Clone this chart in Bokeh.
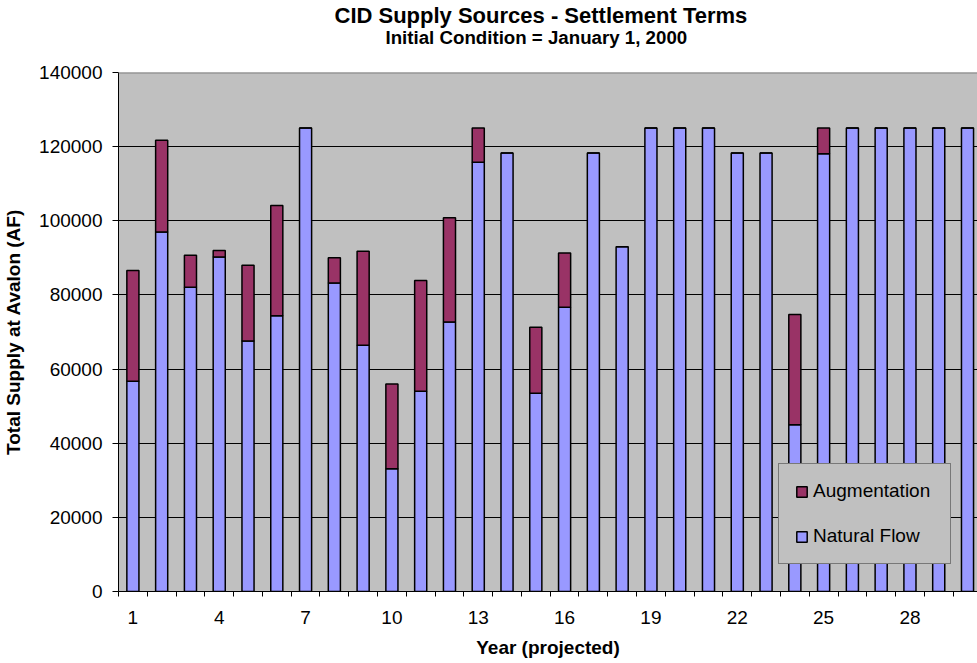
from bokeh.plotting import figure
from bokeh.models import (Range1d, FixedTicker, NumeralTickFormatter, Legend,
                          LegendItem, Title, Span, ColumnDataSource)
from bokeh.embed import file_html
from bokeh.resources import INLINE

years = list(range(1, 31))
natural_flow = [56700, 97000, 82100, 90200, 67600, 74400, 125000, 83200, 66400, 33100,
                54000, 72700, 115800, 118300, 53500, 76700, 118300, 93000, 125000, 125000,
                125000, 118300, 118300, 45000, 118100, 125000, 125000, 125000, 125000, 125000]
augmentation = [29900, 24700, 8600, 1800, 20400, 29700, 0, 6800, 25400, 22900,
                29900, 28100, 9200, 0, 17800, 14600, 0, 0, 0, 0,
                0, 0, 0, 29700, 6900, 0, 0, 0, 0, 0]
y_ticks = [0, 20000, 40000, 60000, 80000, 100000, 120000, 140000]
x_label_ticks = [1, 4, 7, 10, 13, 16, 19, 22, 25, 28]
category_edges = [i + 0.5 for i in range(0, 31)]

FONT = "Liberation Sans"
TXT = "19px"

source = ColumnDataSource(dict(year=years, natural=natural_flow, aug=augmentation))

W, H = 977, 663
LEFT, TOP, BOTTOM = 118, 72, 72
p = figure(width=W, height=H, output_backend="svg", toolbar_location=None,
           x_range=Range1d(0.5, 0.5 + (W - LEFT) / 28.78), y_range=Range1d(0, 140000),
           min_border_left=LEFT, min_border_right=0, min_border_top=TOP,
           min_border_bottom=BOTTOM,
           background_fill_color="#C0C0C0", border_fill_color="white",
           outline_line_color=None, title=None)

rs = p.vbar_stack(['natural', 'aug'], x='year', width=0.42, source=source,
                  color=['#9999FF', '#993366'], line_color='black', line_width=1.5)

# grid
p.xgrid.grid_line_color = None
p.ygrid.ticker = FixedTicker(ticks=y_ticks[1:-1])
p.ygrid.grid_line_color = "black"
p.ygrid.grid_line_width = 1

p.add_layout(Span(location=140000, dimension='width', line_color='#808080', line_width=2))

# y axis
ya = p.yaxis[0]
ya.ticker = FixedTicker(ticks=y_ticks)
ya.formatter = NumeralTickFormatter(format="0")
ya.major_tick_out = 6
ya.major_tick_in = 0
ya.minor_tick_line_color = None
ya.axis_line_color = "black"
ya.major_tick_line_color = "black"
ya.major_label_text_font = FONT
ya.major_label_text_font_size = TXT
ya.major_label_text_color = "black"
ya.major_label_standoff = 10
ya.axis_label = "Total Supply at Avalon (AF)"
ya.axis_label_text_font = FONT
ya.axis_label_text_font_size = TXT
ya.axis_label_text_font_style = "bold"
ya.axis_label_text_color = "black"
ya.axis_label_standoff = 12

# x axis
xa = p.xaxis[0]
xa.ticker = FixedTicker(ticks=x_label_ticks, minor_ticks=category_edges)
xa.major_tick_line_color = None
xa.major_tick_out = 5
xa.major_tick_in = 0
xa.minor_tick_out = 5
xa.minor_tick_in = 0
xa.minor_tick_line_color = "black"
xa.axis_line_color = "black"
xa.major_label_text_font = FONT
xa.major_label_text_font_size = TXT
xa.major_label_text_color = "black"
xa.major_label_standoff = 14
xa.axis_label = "Year (projected)"
xa.axis_label_text_font = FONT
xa.axis_label_text_font_size = TXT
xa.axis_label_text_font_style = "bold"
xa.axis_label_text_color = "black"
xa.axis_label_standoff = 10

# titles (first added sits closest to the frame)
p.add_layout(Title(text="Initial Condition = January 1, 2000", text_font=FONT,
                   text_font_size="18.7px", text_font_style="bold", align="left",
                   offset=385 - LEFT, text_color="black", standoff=49), 'above')
p.add_layout(Title(text="CID Supply Sources - Settlement Terms", text_font=FONT,
                   text_font_size="22px", text_font_style="bold", align="left",
                   offset=334 - LEFT, text_color="black", standoff=-54), 'above')

legend = Legend(items=[LegendItem(label="Augmentation", renderers=[rs[1]]),
                       LegendItem(label="Natural Flow", renderers=[rs[0]])],
                location=(778 - LEFT, 27), padding=16, spacing=23,
                glyph_width=13, glyph_height=13, label_height=20, label_width=121,
                label_standoff=5, label_text_font=FONT, label_text_font_size=TXT,
                label_text_color="black",
                background_fill_color="#C0C0C0", background_fill_alpha=1,
                border_line_color="#303030", border_line_width=1, margin=0)
p.add_layout(legend)

open("out.html", "w").write(file_html(p, INLINE))
